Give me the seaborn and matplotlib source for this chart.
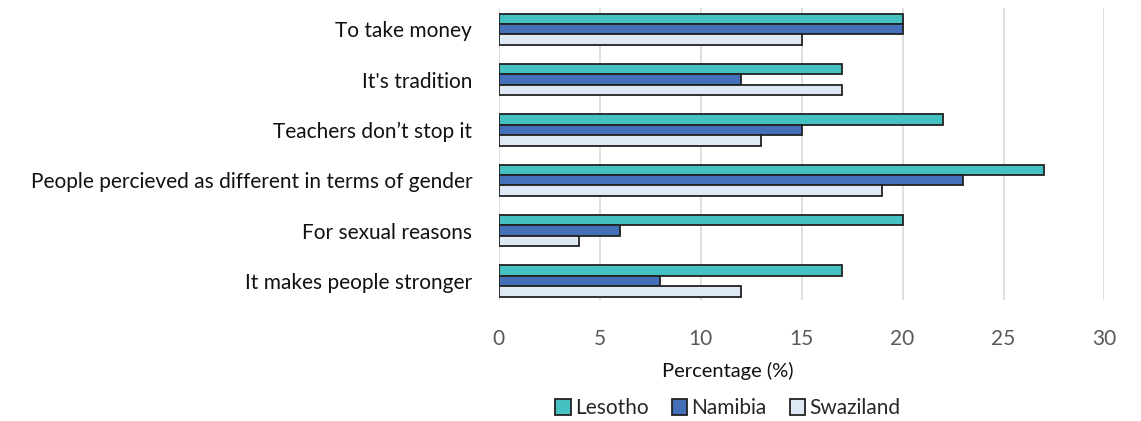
import matplotlib
matplotlib.use("Agg")
import matplotlib.pyplot as plt
import seaborn as sns
import pandas as pd

categories = [
    "To take money",
    "It's tradition",
    "Teachers don\u2019t stop it",
    "People percieved as different in terms of gender",
    "For sexual reasons",
    "It makes people stronger",
]
countries = ["Lesotho", "Namibia", "Swaziland"]
lesotho = [20, 17, 22, 27, 20, 17]
namibia = [20, 12, 15, 23, 6, 8]
swaziland = [15, 17, 13, 19, 4, 12]
colors = ["#45C1C1", "#4470BA", "#DFE9F5"]

rows = []
for country, vals in zip(countries, [lesotho, namibia, swaziland]):
    for cat, v in zip(categories, vals):
        rows.append({"Reason": cat, "Country": country, "Percentage": v})
df = pd.DataFrame(rows)

sns.set_theme(style="white")
plt.rcParams["font.family"] = ["Lato", "DejaVu Sans"]

fig = plt.figure(figsize=(11.41, 4.21), dpi=100)
ax = fig.add_axes([0.437, 0.287, 0.531, 0.694])

sns.barplot(data=df, y="Reason", x="Percentage", hue="Country",
            order=categories, hue_order=countries, palette=colors,
            orient="h", width=0.62, edgecolor="#222222", linewidth=1.3,
            saturation=1, ax=ax, legend=True)

ax.set_xlim(0, 30)
ax.set_xticks(range(0, 31, 5))
ax.set_ylim(5.38, -0.42)
ax.grid(axis="x", color="#D9D9D9", linewidth=1.2)
ax.set_axisbelow(True)
for s in ax.spines.values():
    s.set_visible(False)

ax.tick_params(axis="y", length=0, pad=19, labelsize=15, labelcolor="#111111")
ax.tick_params(axis="x", length=0, pad=21, labelsize=15, labelcolor="#595959")
ax.set_ylabel("")
ax.set_xlabel("Percentage (%)", fontsize=14.5, color="#111111")
ax.xaxis.set_label_coords(0.379, -0.21)

handles, labels = ax.get_legend_handles_labels()
ax.legend_.remove()
fig.legend(handles, labels, loc="center", bbox_to_anchor=(0.638, 0.03),
           ncol=3, frameon=False, fontsize=15, handlelength=0.75,
           handleheight=0.75, handletextpad=0.2, columnspacing=1.1)

fig.savefig("out.png", dpi=100)
